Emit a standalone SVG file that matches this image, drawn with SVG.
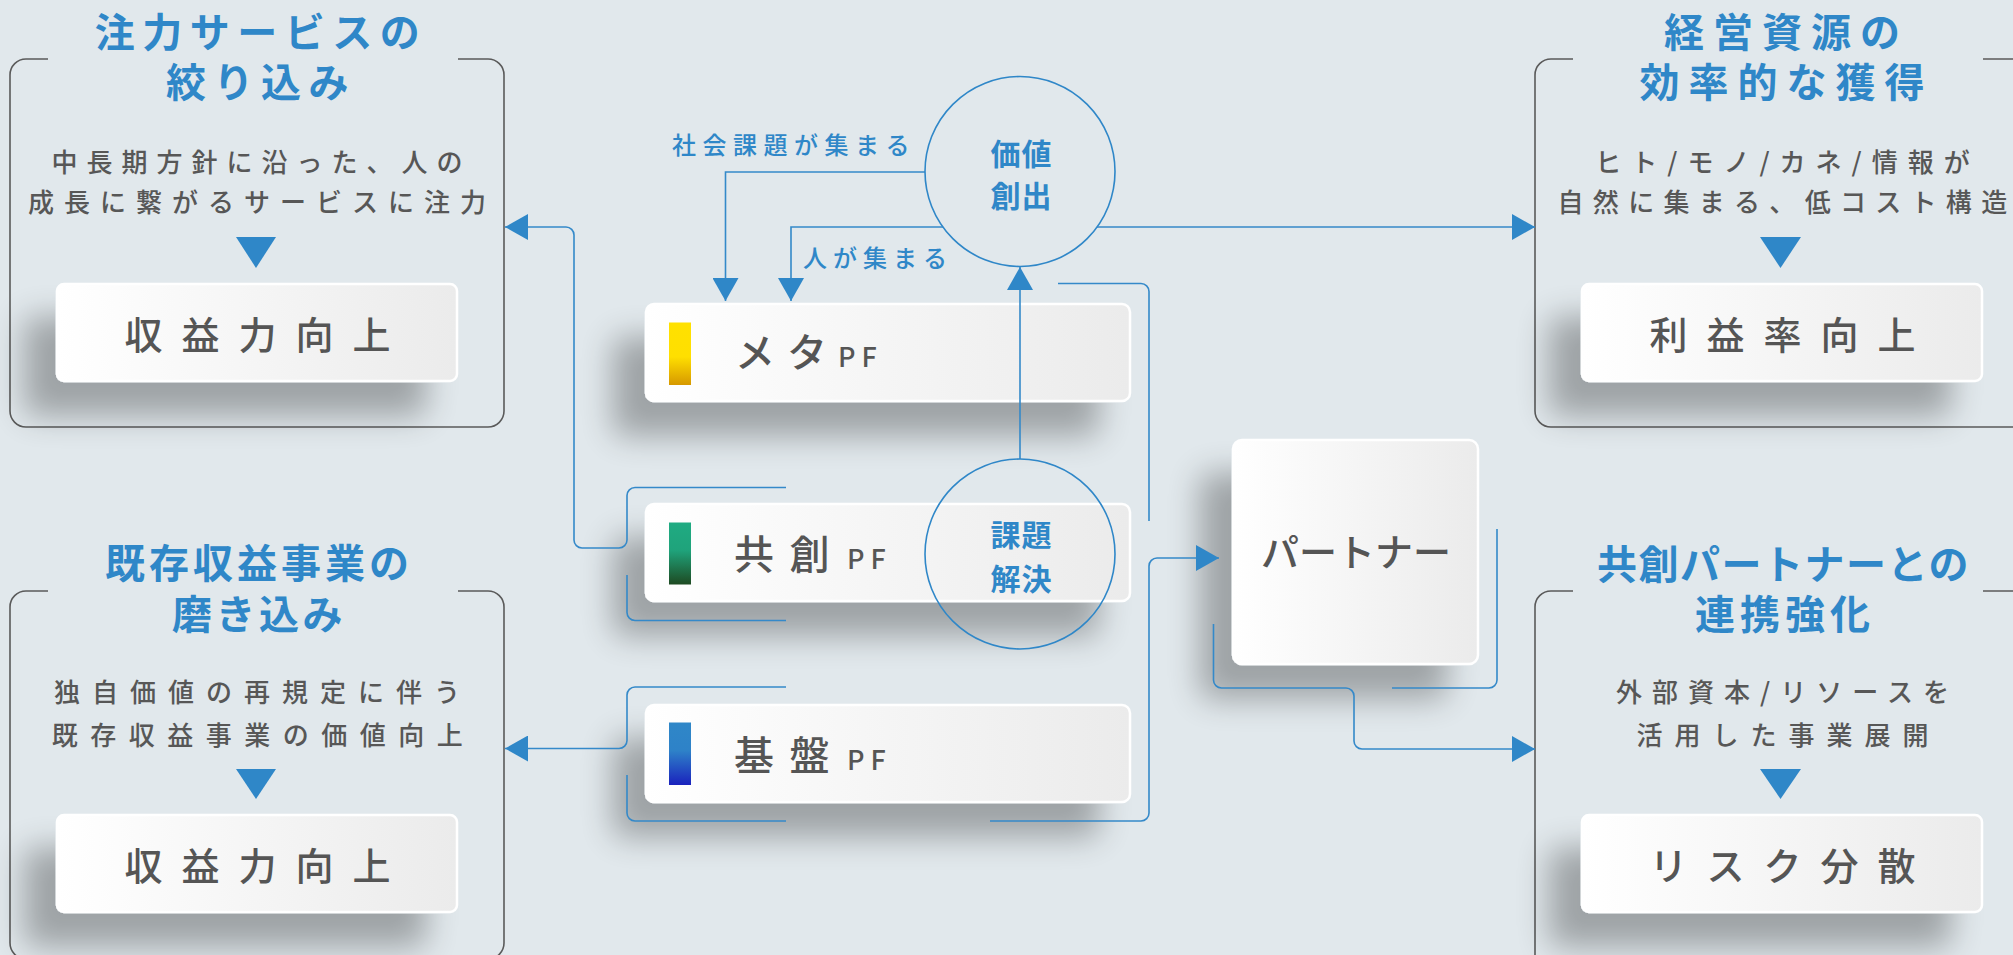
<svg xmlns="http://www.w3.org/2000/svg" width="2013" height="955" viewBox="0 0 2013 955">
<defs>
<style>
text{font-family:"Noto Sans CJK JP","Noto Sans",sans-serif;}
.frame{fill:none;stroke:#5a5a5a;stroke-width:1.6;}
.title{fill:#2f87c8;font-size:40px;font-weight:700;text-anchor:middle;}
.body{fill:#575757;font-size:26px;font-weight:500;text-anchor:middle;}
.res{fill:#555;font-size:38px;font-weight:500;text-anchor:middle;letter-spacing:19px;}
.tri{fill:#2f87c8;}
.box{fill:url(#boxg);stroke:#fff;stroke-width:2.5;filter:url(#sh);}
.pf{fill:#555;font-size:40px;font-weight:500;}
.pfs{fill:#555;font-size:27px;font-weight:500;letter-spacing:6px;}
.circ{fill:none;stroke:#2f87c8;stroke-width:1.6;}
.ctext{fill:#2f87c8;font-size:30px;font-weight:700;text-anchor:middle;letter-spacing:1px;}
.lab{fill:#2f87c8;font-size:24px;font-weight:500;}
.con{fill:none;stroke:#3489c9;stroke-width:1.6;}
.arr{marker-end:url(#ah);}
</style>
<linearGradient id="boxg" x1="0" y1="0" x2="1" y2="0">
<stop offset="0" stop-color="#ffffff"/>
<stop offset="1" stop-color="#ebebeb"/>
</linearGradient>
<linearGradient id="gMeta" x1="0" y1="0" x2="0" y2="1">
<stop offset="0" stop-color="#ffe100"/>
<stop offset="0.55" stop-color="#ffdf00"/>
<stop offset="1" stop-color="#d69800"/>
</linearGradient>
<linearGradient id="gKyo" x1="0" y1="0" x2="0" y2="1">
<stop offset="0" stop-color="#1fab82"/>
<stop offset="0.45" stop-color="#1fa37b"/>
<stop offset="1" stop-color="#1e4a22"/>
</linearGradient>
<linearGradient id="gKiban" x1="0" y1="0" x2="0" y2="1">
<stop offset="0" stop-color="#2f87c8"/>
<stop offset="0.45" stop-color="#2e82c8"/>
<stop offset="1" stop-color="#1a22bd"/>
</linearGradient>
<filter id="sh" x="-30%" y="-40%" width="160%" height="220%">
<feGaussianBlur in="SourceAlpha" stdDeviation="16"/>
<feOffset dx="-32" dy="34" result="o"/>
<feComponentTransfer><feFuncA type="linear" slope="0.3"/></feComponentTransfer>
<feMerge><feMergeNode/><feMergeNode in="SourceGraphic"/></feMerge>
</filter>
<marker id="ah" markerUnits="userSpaceOnUse" markerWidth="23" markerHeight="26" refX="23" refY="13" orient="auto" viewBox="0 0 23 26">
<path d="M0,0 L23,13 L0,26 Z" fill="#2f87c8"/>
</marker>
</defs>

<rect x="0" y="0" width="2013" height="955" fill="#e1e8ec"/>

<g id="frame-focus">
<path class="frame" d="M48,59 H26 A16,16 0 0 0 10,75 V411 A16,16 0 0 0 26,427 H488 A16,16 0 0 0 504,411 V75 A16,16 0 0 0 488,59 H458"/>
<text class="title" x="261" y="47" letter-spacing="7.5">注力サービスの</text>
<text class="title" x="261" y="97" letter-spacing="7.5">絞り込み</text>
<text class="body" x="261.5" y="171.5" letter-spacing="9">中長期方針に沿った、人の</text>
<text class="body" x="262" y="211.5" letter-spacing="10">成長に繋がるサービスに注力</text>
<polygon class="tri" points="236,237 276,237 256,268"/>
<rect class="box" x="57" y="284" width="400" height="97" rx="7"/>
<text class="res" x="267" y="349">収益力向上</text>
</g>

<g id="frame-existing">
<path class="frame" d="M48,591 H26 A16,16 0 0 0 10,607 V943 A16,16 0 0 0 26,959 H488 A16,16 0 0 0 504,943 V607 A16,16 0 0 0 488,591 H458"/>
<text class="title" x="259" y="578" letter-spacing="4">既存収益事業の</text>
<text class="title" x="259" y="629" letter-spacing="3.5">磨き込み</text>
<text class="body" x="263" y="701.5" letter-spacing="12">独自価値の再規定に伴う</text>
<text class="body" x="263.5" y="744.5" letter-spacing="12.5">既存収益事業の価値向上</text>
<polygon class="tri" points="236,769 276,769 256,799"/>
<rect class="box" x="57" y="815" width="400" height="97" rx="7"/>
<text class="res" x="267" y="880">収益力向上</text>
</g>

<g id="frame-resources">
<path class="frame" d="M1573,59 H1551 A16,16 0 0 0 1535,75 V411 A16,16 0 0 0 1551,427 H2020"/>
<path class="frame" d="M1983,59 H2020"/>
<text class="title" x="1786.5" y="47" letter-spacing="9">経営資源の</text>
<text class="title" x="1786.5" y="97" letter-spacing="9">効率的な獲得</text>
<text class="body" x="1787.5" y="171.5" letter-spacing="10">ヒト/モノ/カネ/情報が</text>
<text class="body" x="1787" y="212" letter-spacing="9.3">自然に集まる、低コスト構造</text>
<polygon class="tri" points="1760,237 1801,237 1780.5,268"/>
<rect class="box" x="1582" y="284" width="400" height="97" rx="7"/>
<text class="res" x="1792" y="349">利益率向上</text>
</g>

<g id="frame-partner">
<path class="frame" d="M1573,591 H1551 A16,16 0 0 0 1535,607 V965"/>
<path class="frame" d="M1983,591 H2020"/>
<text class="title" x="1783.5" y="579" letter-spacing="1.5">共創パートナーとの</text>
<text class="title" x="1785" y="629" letter-spacing="5">連携強化</text>
<text class="body" x="1787.5" y="702" letter-spacing="10">外部資本/リソースを</text>
<text class="body" x="1788.5" y="745" letter-spacing="12">活用した事業展開</text>
<polygon class="tri" points="1760,769 1801,769 1780.5,799"/>
<rect class="box" x="1582" y="815" width="400" height="97" rx="7"/>
<text class="res" x="1792" y="880">リスク分散</text>
</g>

<g id="pf-meta">
<rect class="box" x="646" y="304" width="484" height="97" rx="8"/>
<rect x="669" y="322.5" width="22" height="62.5" fill="url(#gMeta)"/>
<text class="pf" x="735" y="366.5" letter-spacing="12">メタ</text>
<text class="pfs" x="838" y="366.5">PF</text>
</g>

<g id="pf-kyoso">
<rect class="box" x="646" y="504" width="484" height="97" rx="8"/>
<rect x="669" y="522.5" width="22" height="62" fill="url(#gKyo)"/>
<text class="pf" x="734" y="568.5" letter-spacing="15.5">共創</text>
<text class="pfs" x="847" y="568.5">PF</text>
</g>

<g id="pf-kiban">
<rect class="box" x="646" y="705" width="484" height="97" rx="8"/>
<rect x="669" y="722.5" width="22" height="62.5" fill="url(#gKiban)"/>
<text class="pf" x="734" y="770" letter-spacing="15.5">基盤</text>
<text class="pfs" x="847" y="770">PF</text>
</g>

<g id="partner">
<rect class="box" x="1233" y="440" width="245" height="224" rx="9"/>
<text x="1356" y="566" fill="#555" font-size="38" font-weight="500" text-anchor="middle">パートナー</text>
</g>

<g id="connectors">
<path class="con arr" d="M925,172 H725.5 V301"/>
<path class="con arr" d="M943,227 H791 V301"/>
<path class="con arr" d="M1097,227 H1535"/>
<path class="con arr" d="M1020,459 V267"/>
<path class="con arr" d="M786,487.5 H635 A8,8 0 0 0 627,495.5 V540 A8,8 0 0 1 619,548 H582 A8,8 0 0 1 574,540 V235 A8,8 0 0 0 566,227 H505"/>
<path class="con" d="M627,575 V612.5 A8,8 0 0 0 635,620.5 H786"/>
<path class="con arr" d="M786,687 H635 A8,8 0 0 0 627,695 V740.5 A8,8 0 0 1 619,748.5 H505"/>
<path class="con" d="M627,775 V813 A8,8 0 0 0 635,821 H786"/>
<path class="con arr" d="M990,821 H1141 A8,8 0 0 0 1149,813 V566 A8,8 0 0 1 1157,558 H1219"/>
<path class="con" d="M1058,283.5 H1141 A8,8 0 0 1 1149,291.5 V521"/>
<path class="con arr" d="M1213.5,624 V680 A8,8 0 0 0 1221.5,688 H1346 A8,8 0 0 1 1354,696 V741 A8,8 0 0 0 1362,749 H1535"/>
<path class="con" d="M1497,529 V680 A8,8 0 0 1 1489,688 H1392"/>
<text class="lab" x="672" y="153.5" letter-spacing="6.5">社会課題が集まる</text>
<text class="lab" x="803" y="266.5" letter-spacing="6">人が集まる</text>
</g>

<g id="value-creation">
<circle class="circ" cx="1020" cy="171.5" r="95"/>
<text class="ctext" x="1021.5" y="165">価値</text>
<text class="ctext" x="1021.5" y="207">創出</text>
</g>

<g id="problem-solving">
<circle class="circ" cx="1020" cy="554" r="95"/>
<text class="ctext" x="1021.5" y="546">課題</text>
<text class="ctext" x="1021.5" y="589.5">解決</text>
</g>
</svg>
